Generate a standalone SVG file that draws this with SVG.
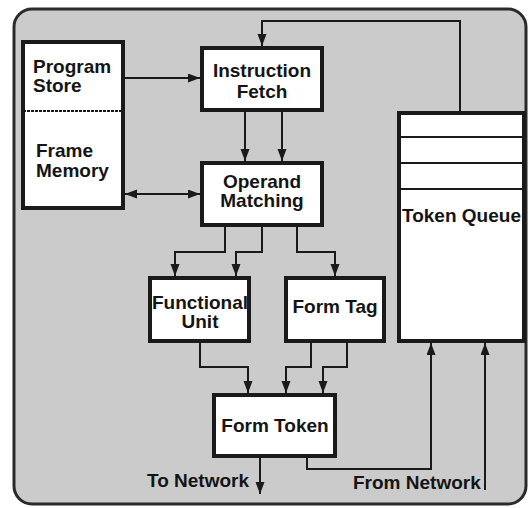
<svg xmlns="http://www.w3.org/2000/svg" width="529" height="508" viewBox="0 0 529 508">
<style>
.box{fill:#fff;stroke:#1a1a1a;stroke-width:4}
.t{font-family:"Liberation Sans",Arial,sans-serif;font-weight:bold;font-size:19px;fill:#141414}
.c{text-anchor:middle}
.ln{fill:none;stroke:#1a1a1a;stroke-width:2}
.a{marker-end:url(#ah)}
</style>
<defs>
<marker id="ah" markerUnits="userSpaceOnUse" markerWidth="13" markerHeight="10" refX="12" refY="4.5" orient="auto-start-reverse">
<path d="M0,0 L12,4.5 L0,9 z" fill="#1a1a1a"/>
</marker>
</defs>
<rect x="0" y="0" width="529" height="508" fill="#fff"/>
<rect id="frame" x="14" y="9" width="512" height="495" rx="18" fill="#cbcbcb" stroke="#2a2a2a" stroke-width="3"/>
<g id="connectors">
<path class="ln a" d="M460,111 V21 H262 V46"/>
<path class="ln a" d="M125,78 H200"/>
<path class="ln a" d="M245,112 V161"/>
<path class="ln a" d="M282,112 V161"/>
<path class="ln a" d="M125,194 H200" marker-start="url(#ah)"/>
<path class="ln a" d="M225,227 V252 H175 V276"/>
<path class="ln a" d="M262,227 V252 H236 V276"/>
<path class="ln a" d="M297,227 V252 H335 V276"/>
<path class="ln a" d="M200,343 V367 H248 V393"/>
<path class="ln a" d="M311,343 V367 H286 V393"/>
<path class="ln a" d="M347,343 V367 H323 V393"/>
<path class="ln a" d="M260,458 V494"/>
<path class="ln a" d="M307,458 V469 H431 V343"/>
<path class="ln a" d="M485,490 V343"/>
</g>
<g id="program-store">
<rect class="box" x="23" y="42" width="100" height="166"/>
<line x1="23" y1="111" x2="123" y2="111" stroke="#1a1a1a" stroke-width="2" stroke-dasharray="3 1"/>
<text class="t" x="33" y="73">Program</text>
<text class="t" x="33" y="92">Store</text>
<text class="t" x="36" y="157">Frame</text>
<text class="t" x="36" y="177">Memory</text>
</g>
<g id="instruction-fetch">
<rect class="box" x="202" y="48" width="120" height="62"/>
<text class="t c" x="262" y="77">Instruction</text>
<text class="t c" x="262" y="98">Fetch</text>
</g>
<g id="operand-matching">
<rect class="box" x="202" y="163" width="120" height="62"/>
<text class="t c" x="262" y="188">Operand</text>
<text class="t c" x="262" y="207">Matching</text>
</g>
<g id="functional-unit">
<rect class="box" x="150" y="278" width="99" height="63"/>
<text class="t c" x="200" y="309">Functional</text>
<text class="t c" x="200" y="328">Unit</text>
</g>
<g id="form-tag">
<rect class="box" x="286" y="278" width="98" height="63"/>
<text class="t c" x="335" y="313">Form Tag</text>
</g>
<g id="token-queue">
<rect class="box" x="399" y="113" width="125" height="228"/>
<line x1="399" y1="137" x2="524" y2="137" class="ln"/>
<line x1="399" y1="163" x2="524" y2="163" class="ln"/>
<line x1="399" y1="189" x2="524" y2="189" class="ln"/>
<text class="t" x="402" y="222">Token Queue</text>
</g>
<g id="form-token">
<rect class="box" x="214" y="395" width="121" height="61"/>
<text class="t c" x="275" y="432">Form Token</text>
</g>
<g id="labels">
<text class="t" x="147" y="487" font-size="18.5">To Network</text>
<text class="t" x="353" y="489" font-size="18.5">From Network</text>
</g>
</svg>
